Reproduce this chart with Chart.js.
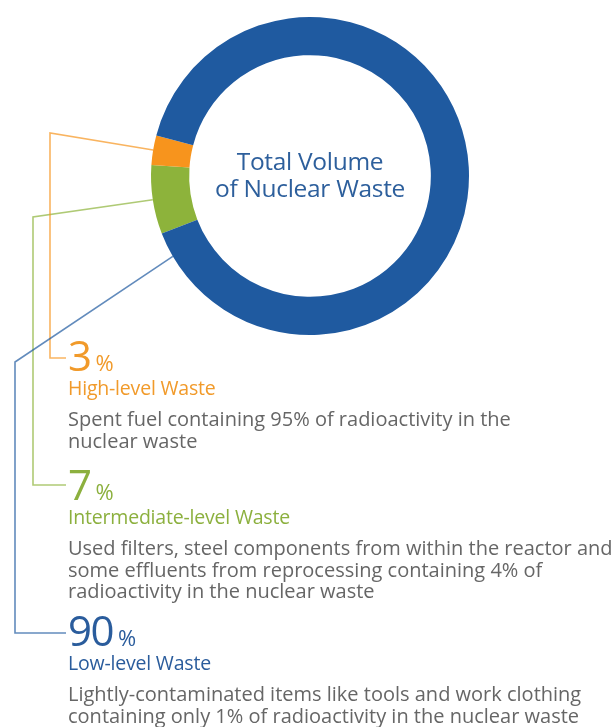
<!DOCTYPE html>
<html>
<head>
<meta charset="utf-8">
<script src="https://cdn.jsdelivr.net/npm/chart.js@4"></script>
<style>
  html, body { margin: 0; padding: 0; background: #fff; }
  #wrap { position: relative; width: 616px; height: 727px; overflow: hidden; font-family: "Open Sans", sans-serif; }
  #c { position: absolute; left: 0; top: 0; }
  .center { position: absolute; left: 110px; width: 400px; top: 147px; text-align: center; color: #2d5f9c; font-size: 24.5px; line-height: 27px; letter-spacing: -0.3px; }
  .note { position: absolute; left: 68px; white-space: nowrap; }
  .big { font-size: 42px; line-height: 38px; letter-spacing: -1.5px; }
  .pct { font-size: 22px; margin-left: 5px; letter-spacing: 0; }
  .lab { font-size: 19.5px; line-height: 20px; margin-top: -3px; letter-spacing: -0.2px; }
  .desc { font-size: 20px; line-height: 21.5px; color: #666; margin-top: 10px; }
</style>
</head>
<body>
<div id="wrap">
  <canvas id="c" width="616" height="727"></canvas>
  <div class="center">Total Volume<br>of Nuclear Waste</div>
</div>
<script>
const categories = ["High-level Waste", "Intermediate-level Waste", "Low-level Waste"]
const shares = [3, 7, 90]
const descriptions = [
  ["Spent fuel containing 95% of radioactivity in the", "nuclear waste"],
  ["Used filters, steel components from within the reactor and", "some effluents from reprocessing containing 4% of", "radioactivity in the nuclear waste"],
  ["Lightly-contaminated items like tools and work clothing", "containing only 1% of radioactivity in the nuclear waste"]
]
const colors = ["#f7941d", "#8db33b", "#1f5aa0"]
const textColors = ["#f19a2a", "#8cb03e", "#2a5c9c"]

// slices go clockwise: intermediate, high, then low
const drawOrder = [1, 0, 2]

// where each note block starts and how its leader line bends
const noteTops = [336, 465, 611]
const elbows = [
  { x: 50, top: 133, y: 358 },
  { x: 33, top: 217, y: 485 },
  { x: 15, top: 362, y: 633 }
]

const wrap = document.getElementById("wrap")
categories.forEach((name, i) => {
  const div = document.createElement("div")
  div.className = "note"
  div.style.top = noteTops[i] + "px"
  div.style.color = textColors[i]
  div.innerHTML =
    '<div class="big">' + shares[i] + '<span class="pct">%</span></div>' +
    '<div class="lab">' + name + '</div>' +
    '<div class="desc">' + descriptions[i].join("<br>") + '</div>'
  wrap.appendChild(div)
})

const leaders = {
  id: "leaders",
  afterDatasetsDraw(chart) {
    const ctx = chart.ctx
    const arcs = chart.getDatasetMeta(0).data
    drawOrder.forEach((cat, k) => {
      const arc = arcs[k]
      const { x, y, startAngle, endAngle, outerRadius } = arc.getProps(["x", "y", "startAngle", "endAngle", "outerRadius"])
      // the big slice gets its line near its end, the small ones in the middle
      const a = cat == 2 ? endAngle - 0.16 : (startAngle + endAngle) / 2
      const sx = x + Math.cos(a) * outerRadius
      const sy = y + Math.sin(a) * outerRadius
      const e = elbows[cat]
      ctx.save()
      ctx.strokeStyle = colors[cat]
      ctx.globalAlpha = 0.7
      ctx.lineWidth = 1.6
      ctx.beginPath()
      ctx.moveTo(sx, sy)
      ctx.lineTo(e.x, e.top)
      ctx.lineTo(e.x, e.y)
      ctx.lineTo(66, e.y)
      ctx.stroke()
      ctx.restore()
    })
  }
}

new Chart(
  document.getElementById("c"),
  {
    type: "doughnut",
    data: {
      labels: drawOrder.map(i => categories[i]),
      datasets: [
        {
          data: drawOrder.map(i => shares[i]),
          backgroundColor: drawOrder.map(i => colors[i]),
          borderWidth: 0
        }
      ]
    },
    options: {
      responsive: false,
      animation: false,
      cutout: "76%",
      rotation: 248.8,
      layout: { padding: { left: 151, right: 147, top: 17, bottom: 392 } },
      plugins: { legend: { display: false }, tooltip: { enabled: false } }
    },
    plugins: [leaders]
  }
);
</script>
</body>
</html>
